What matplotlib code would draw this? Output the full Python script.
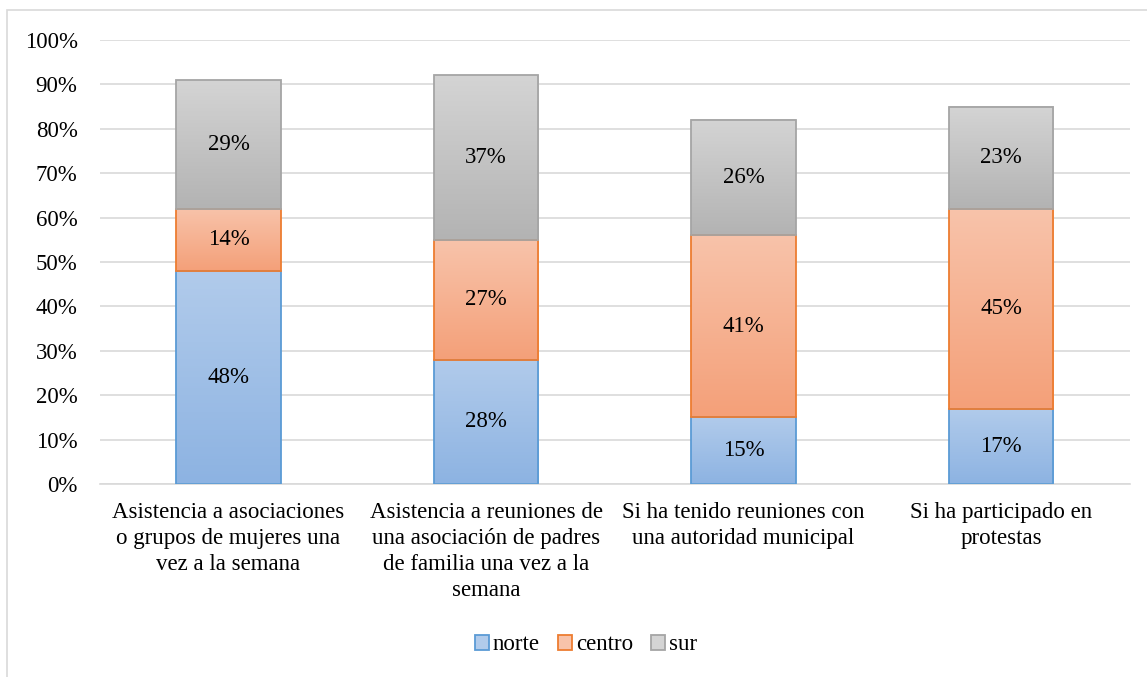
import numpy as np
import matplotlib.pyplot as plt
from matplotlib.colors import LinearSegmentedColormap
from matplotlib.patches import Rectangle, Patch

categorias = [
    "Asistencia a asociaciones\no grupos de mujeres una\nvez a la semana",
    "Asistencia a reuniones de\nuna asociación de padres\nde familia una vez a la\nsemana",
    "Si ha tenido reuniones con\nuna autoridad municipal",
    "Si ha participado en\nprotestas",
]
norte = [48, 28, 15, 17]
centro = [14, 27, 41, 45]
sur = [29, 37, 26, 23]

series = [
    ("norte", norte, "#b1cbeb", "#8db3e2", "#5b9bd5"),
    ("centro", centro, "#f8c3aa", "#f4a079", "#ed7d31"),
    ("sur", sur, "#d4d4d4", "#b3b3b3", "#a5a5a5"),
]

plt.rcParams['font.family'] = ['Liberation Serif', 'DejaVu Serif']
fs = 16.5

fig = plt.figure(figsize=(11.47, 6.77), dpi=100)
ax = fig.add_axes([0.087, 0.285, 0.898, 0.656])

# marco exterior del gráfico
fig.patches.append(Rectangle((7 / 1147, -0.01), 1.0, 1 - 10 / 677 + 0.01,
                             transform=fig.transFigure, fill=False,
                             edgecolor="#d9d9d9", linewidth=1.2))

x = np.arange(len(categorias))
ancho = 0.405
base = np.zeros(len(categorias))
handles = []
for nombre, valores, c_arriba, c_abajo, borde in series:
    valores = np.array(valores, dtype=float)
    barras = ax.bar(x, valores, ancho, bottom=base, facecolor="none",
                    edgecolor=borde, linewidth=1.3, zorder=3)
    cmap = LinearSegmentedColormap.from_list(nombre, [c_abajo, c_arriba])
    grad = np.linspace(0, 1, 100).reshape(-1, 1)
    for b in barras:
        bx, by = b.get_x(), b.get_y()
        bw, bh = b.get_width(), b.get_height()
        ax.imshow(grad, cmap=cmap, origin="lower", aspect="auto",
                  extent=[bx, bx + bw, by, by + bh], zorder=2)
    for xi, b0, v in zip(x, base, valores):
        ax.text(xi, b0 + v / 2, f"{int(v)}%", ha="center", va="center",
                fontsize=fs, color="#000000", zorder=4)
    base = base + valores
    handles.append(Patch(facecolor=c_arriba, edgecolor=borde, linewidth=1.3, label=nombre))

ax.set_xlim(-0.5, len(categorias) - 0.5)
ax.set_ylim(0, 100)
ax.set_yticks(np.arange(0, 101, 10))
ax.set_yticklabels([f"{t}%" for t in range(0, 101, 10)], fontsize=fs)
ax.set_xticks(x)
ax.set_xticklabels(categorias, fontsize=fs, linespacing=1.32, va="top")
ax.tick_params(axis="y", length=0, pad=16)
ax.tick_params(axis="x", length=0, pad=13)
ax.yaxis.grid(True, color="#d9d9d9", linewidth=1.2, zorder=0)
ax.set_axisbelow(True)
for s in ["top", "right", "left"]:
    ax.spines[s].set_visible(False)
ax.spines["bottom"].set_color("#d9d9d9")
ax.spines["bottom"].set_linewidth(1.2)

fig.legend(handles=handles, loc="center", bbox_to_anchor=(586 / 1147, 1 - 645 / 677),
           ncol=3, frameon=False, fontsize=fs, handlelength=0.6, handleheight=0.6,
           handletextpad=0.17, columnspacing=0.8)

fig.savefig("out.png", dpi=100)
